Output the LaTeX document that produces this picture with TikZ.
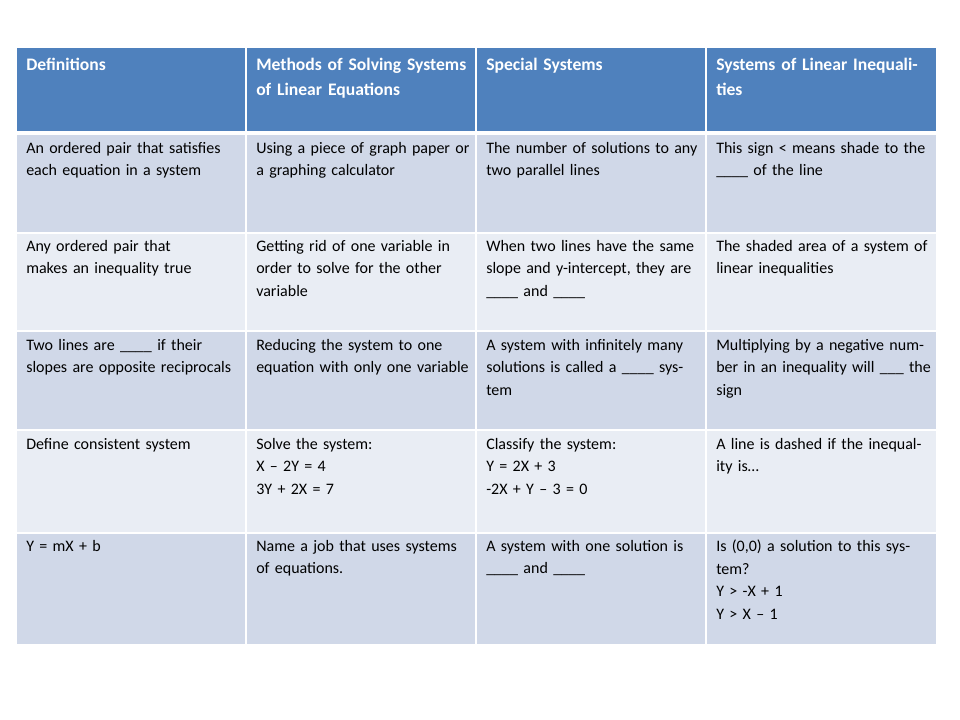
\documentclass[tikz,border=0pt]{standalone}
\usepackage{fontspec}
\setmainfont{Carlito}
\usetikzlibrary{positioning}
\definecolor{headblue}{HTML}{4F81BD}
\definecolor{rowdark}{HTML}{D0D8E8}
\definecolor{rowlight}{HTML}{E9EDF4}
\begin{document}
\begin{tikzpicture}[x=0.75pt,y=-0.75pt]

\tikzstyle{hbox}=[anchor=north west, inner sep=0pt, text width=200pt, align=left,
text=white, font=\fontsize{13.2}{19}\selectfont\bfseries];
\tikzstyle{cbox}=[anchor=north west, inner sep=0pt, text width=162pt, align=left,
font=\fontsize{12}{16.8}\selectfont];

\useasboundingbox (0,0) rectangle (960,720);

% backgrounds
\fill[headblue] (17,48) rectangle (936,133);
\fill[rowdark] (17,133) rectangle (936,233);
\fill[rowlight] (17,233) rectangle (936,331);
\fill[rowdark] (17,331) rectangle (936,430);
\fill[rowlight] (17,430) rectangle (936,533);
\fill[rowdark] (17,533) rectangle (936,644);

% grid lines
\foreach \y in {133,233,331,430,533} \draw[white, line width=1.5pt] (17,\y) -- (936,\y);
\draw[white, line width=3pt] (17,133) -- (936,133);
\foreach \x in {246,476,706} \draw[white, line width=1.5pt] (\x,48) -- (\x,644);

% header
\node[hbox] (h1) at (26,58) {Definitions};
\node[hbox, text width=165pt] (h2) at (256,58) {Methods of Solving Systems of Linear Equations};
\node[hbox] (h3) at (486,58) {Special Systems};
\node[hbox, text width=165pt] (h4) at (716,58) {Systems of Linear Inequalities};

% row 1
\node[cbox] (a1) at (26,142) {An ordered pair that satisfies each equation in a system};
\node[cbox] (b1) at (256,142) {Using a piece of graph paper or a graphing calculator};
\node[cbox] (c1) at (486,142) {The number of solutions to any two parallel lines};
\node[cbox] (d1) at (716,142) {This sign < means shade to the \_\_\_\_ of the line};

% row 2
\node[cbox] (a2) at (26,240) {Any ordered pair that\\makes an inequality true};
\node[cbox] (b2) at (256,240) {Getting rid of one variable in order to solve for the other variable};
\node[cbox] (c2) at (486,240) {When two lines have the same slope and y-intercept, they are \_\_\_\_ and \_\_\_\_};
\node[cbox] (d2) at (716,240) {The shaded area of a system of linear inequalities};

% row 3
\node[cbox] (a3) at (26,339) {Two lines are \_\_\_\_ if their slopes are opposite reciprocals};
\node[cbox] (b3) at (256,339) {Reducing the system to one equation with only one variable};
\node[cbox] (c3) at (486,339) {A system with infinitely many solutions is called a \_\_\_\_ system};
\node[cbox] (d3) at (716,339) {Multiplying by a negative number in an inequality will \_\_\_ the sign};

% row 4
\node[cbox] (a4) at (26,438) {Define consistent system};
\node[cbox] (b4) at (256,438) {Solve the system:\\X – 2Y = 4\\3Y + 2X = 7};
\node[cbox] (c4) at (486,438) {Classify the system:\\Y = 2X + 3\\-2X + Y – 3 = 0};
\node[cbox] (d4) at (716,438) {A line is dashed if the inequality is…};

% row 5
\node[cbox] (a5) at (26,540) {Y = mX + b};
\node[cbox] (b5) at (256,540) {Name a job that uses systems of equations.};
\node[cbox] (c5) at (486,540) {A system with one solution is \_\_\_\_ and \_\_\_\_};
\node[cbox] (d5) at (716,540) {Is (0,0) a solution to this system?\\Y > -X + 1\\Y > X – 1};

\end{tikzpicture}
\end{document}
